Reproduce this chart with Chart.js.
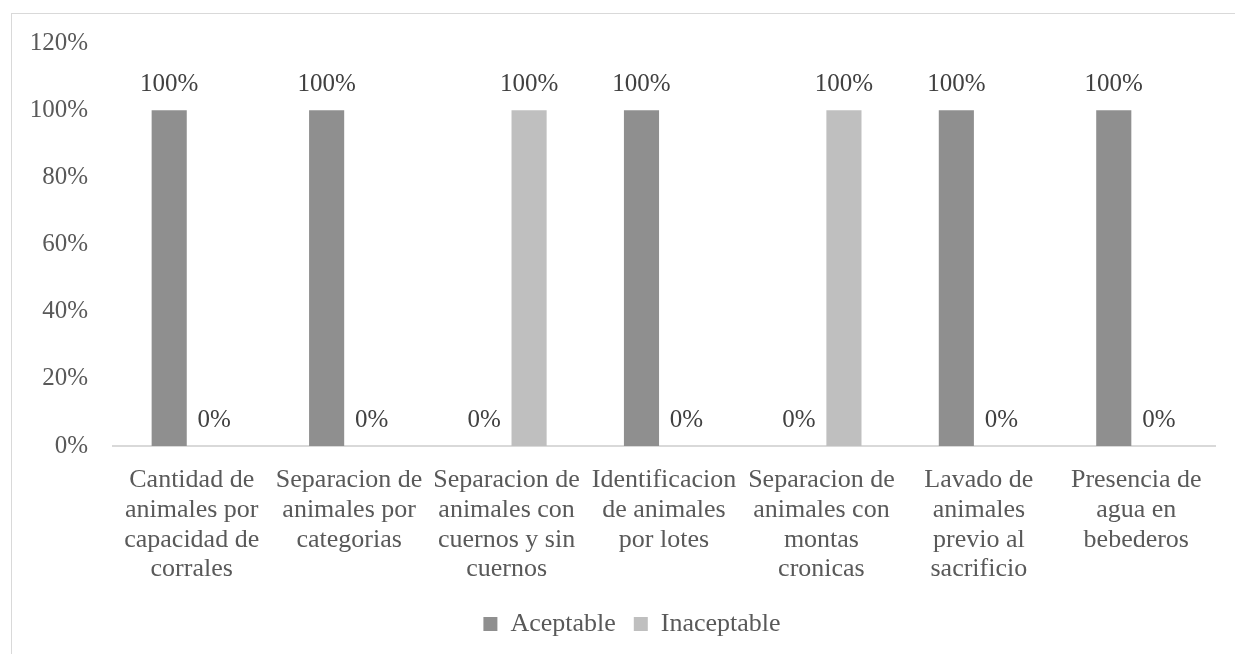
<!DOCTYPE html>
<html>
<head>
<meta charset="utf-8">
<script src="https://cdn.jsdelivr.net/npm/chart.js@4.4.0/dist/chart.umd.min.js"></script>
<style>
  html, body { margin: 0; padding: 0; background: #fff; overflow: hidden; }
  #wrap { position: relative; width: 1235px; height: 654px; }
  #frame {
    position: absolute; left: 11px; top: 13px; width: 1300px; height: 700px;
    border: 1px solid #d9d9d9; box-sizing: border-box;
  }
  #chart { position: absolute; left: 0; top: 0; }
</style>
</head>
<body>
<div id="wrap">
  <div id="frame"></div>
  <canvas id="chart" width="1235" height="654"></canvas>
</div>
<script>
const categories = [
  ["Cantidad de", "animales por", "capacidad de", "corrales"],
  ["Separacion de", "animales por", "categorias"],
  ["Separacion de", "animales con", "cuernos y sin", "cuernos"],
  ["Identificacion", "de animales", "por lotes"],
  ["Separacion de", "animales con", "montas", "cronicas"],
  ["Lavado de", "animales", "previo al", "sacrificio"],
  ["Presencia de", "agua en", "bebederos"],
];
const aceptable = [100, 100, 0, 100, 0, 100, 100];
const inaceptable = [0, 0, 100, 0, 100, 0, 0];
const yTicks = [0, 20, 40, 60, 80, 100, 120];

const serif = '"Liberation Serif", "Times New Roman", serif';

// writes "NN%" above each bar, including the empty ones
const valueLabels = {
  id: "valueLabels",
  afterDatasetsDraw(chart) {
    const ctx = chart.ctx;
    ctx.save();
    ctx.font = "25px " + serif;
    ctx.fillStyle = "#404040";
    ctx.textAlign = "center";
    ctx.textBaseline = "middle";
    chart.data.datasets.forEach((ds, i) => {
      chart.getDatasetMeta(i).data.forEach((bar, j) => {
        ctx.fillText(ds.data[j] + "%", bar.x, bar.y - 25.5);
      });
    });
    ctx.restore();
  },
};

// nudge the legend a bit right so it sits under the middle of the frame
const legendShift = {
  id: "legendShift",
  afterLayout(chart) {
    if (chart.legend) {
      chart.legend.left += 12;
      chart.legend.right += 12;
    }
  },
};

new Chart(document.getElementById("chart"), {
  type: "bar",
  data: {
    labels: categories,
    datasets: [
      {
        label: "Aceptable",
        data: aceptable,
        backgroundColor: "#8f8f8f",
        categoryPercentage: 0.572,
        barPercentage: 0.78,
      },
      {
        label: "Inaceptable",
        data: inaceptable,
        backgroundColor: "#bfbfbf",
        categoryPercentage: 0.572,
        barPercentage: 0.78,
      },
    ],
  },
  options: {
    responsive: false,
    animation: false,
    devicePixelRatio: 1,
    layout: {
      padding: { left: 25, right: 20, top: 43, bottom: 7 },
    },
    plugins: {
      tooltip: { enabled: false },
      legend: {
        position: "bottom",
        labels: {
          boxWidth: 14,
          boxHeight: 14,
          padding: 18,
          color: "#595959",
          font: { size: 26, family: serif },
        },
      },
    },
    scales: {
      x: {
        grid: { display: false },
        border: { color: "#d9d9d9", width: 2 },
        ticks: {
          color: "#595959",
          font: { size: 26, family: serif, lineHeight: 1.15 },
          padding: 11,
          maxRotation: 0,
          autoSkip: false,
        },
        afterFit(scale) {
          scale.height = 147;
        },
      },
      y: {
        min: 0,
        max: 120,
        afterBuildTicks(scale) {
          scale.ticks = yTicks.map((v) => ({ value: v }));
        },
        grid: { display: false },
        border: { display: false },
        ticks: {
          color: "#595959",
          font: { size: 25, family: serif },
          padding: 17,
          callback: (v) => v + "%",
        },
        afterFit(scale) {
          scale.width = 88;
        },
      },
    },
  },
  plugins: [valueLabels, legendShift],
});
</script>
</body>
</html>
